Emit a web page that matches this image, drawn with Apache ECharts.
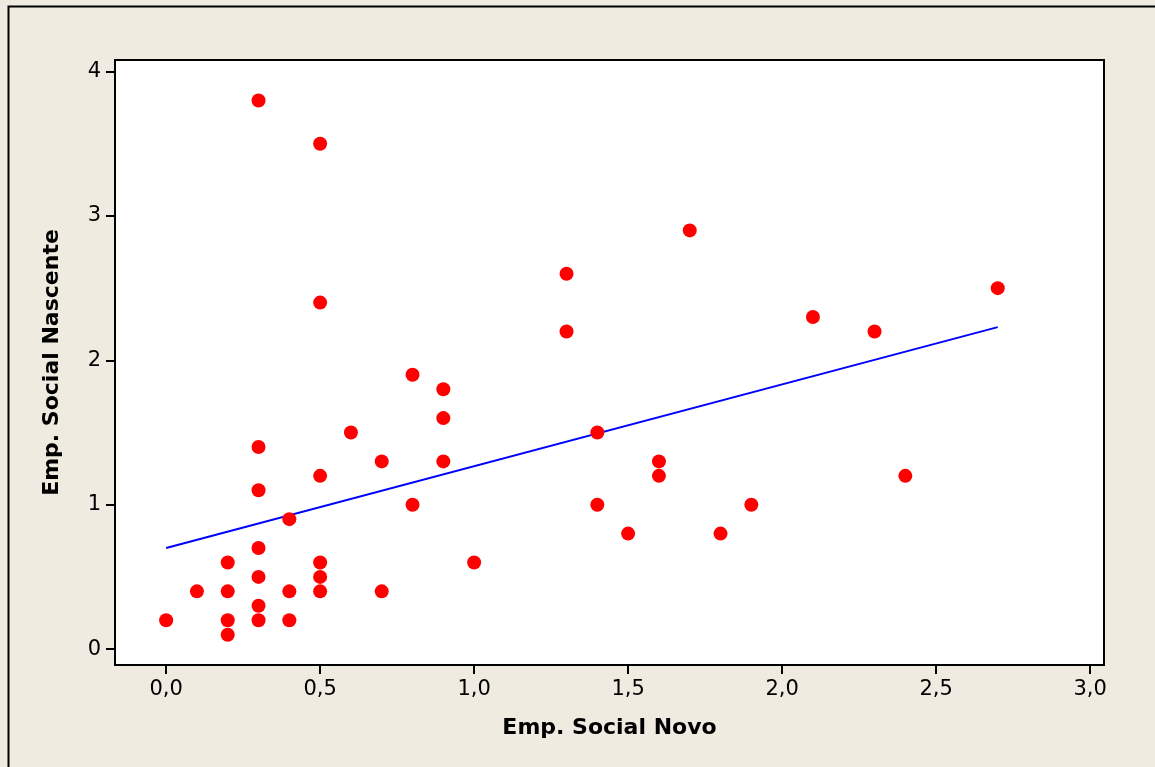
<!DOCTYPE html>
<html><head><meta charset="utf-8">
<script src="https://cdn.jsdelivr.net/npm/echarts@6/dist/echarts.min.js"></script>
<style>html,body{margin:0;padding:0;background:#EFEBE1;}#c{width:1155px;height:767px;}</style>
</head><body><div id="c"></div>
<script>
const xValues = [0.0, 0.1, 0.2, 0.2, 0.2, 0.2, 0.3, 0.3, 0.3, 0.3, 0.3, 0.3, 0.3, 0.4, 0.4, 0.4, 0.5, 0.5, 0.5, 0.5, 0.5, 0.5, 0.6, 0.7, 0.7, 0.8, 0.8, 0.9, 0.9, 0.9, 1.0, 1.3, 1.3, 1.4, 1.4, 1.5, 1.6, 1.6, 1.7, 1.8, 1.9, 2.1, 2.3, 2.4, 2.7];
const yValues = [0.2, 0.4, 0.6, 0.4, 0.2, 0.1, 3.8, 1.4, 1.1, 0.7, 0.5, 0.3, 0.2, 0.9, 0.4, 0.2, 3.5, 2.4, 1.2, 0.6, 0.5, 0.4, 1.5, 1.3, 0.4, 1.9, 1.0, 1.8, 1.6, 1.3, 0.6, 2.6, 2.2, 1.5, 1.0, 0.8, 1.3, 1.2, 2.9, 0.8, 1.0, 2.3, 2.2, 1.2, 2.5];
const fitX = [0.0, 2.7];
const fitY = [0.70, 2.23];
const xTicks = [0.0, 0.5, 1.0, 1.5, 2.0, 2.5, 3.0];
const yTicks = [0, 1, 2, 3, 4];
const xTitle = 'Emp. Social Novo';
const yTitle = 'Emp. Social Nascente';

const pts = xValues.map((x, i) => [x, yValues[i]]);
const fit = fitX.map((x, i) => [x, fitY[i]]);
const chart = echarts.init(document.getElementById('c'));
const font = 'DejaVu Sans';
chart.setOption({
  backgroundColor: '#EFEBE1',
  animation: false,
  graphic: [{type: 'rect', left: 6, top: 4, shape: {width: 1200, height: 800}, style: {fill: 'none', stroke: '#000', lineWidth: 2}, silent: true}],
  grid: {left: 115, top: 60, right: 51, bottom: 102, show: true, backgroundColor: '#fff', borderColor: '#000', borderWidth: 2},
  xAxis: {
    type: 'value', min: -0.166, max: 3.045,
    axisLine: {show: false, onZero: false},
    splitLine: {show: false},
    axisTick: {show: true, length: 9, lineStyle: {color: '#000', width: 2}, customValues: xTicks},
    axisLabel: {customValues: xTicks, color: '#000', fontFamily: font, fontSize: 21, margin: 14,
      formatter: v => v.toFixed(1).replace('.', ',')},
    name: xTitle, nameLocation: 'middle', nameGap: 52,
    nameTextStyle: {color: '#000', fontFamily: font, fontSize: 22, fontWeight: 'bold'}
  },
  yAxis: {
    type: 'value', min: -0.11, max: 4.08,
    axisLine: {show: false, onZero: false},
    splitLine: {show: false},
    axisTick: {show: true, length: 9, lineStyle: {color: '#000', width: 2}, customValues: yTicks},
    axisLabel: {customValues: yTicks, color: '#000', fontFamily: font, fontSize: 21, margin: 14,
      formatter: v => String(v)},
    name: yTitle, nameLocation: 'middle', nameGap: 52, nameRotate: 90,
    nameTextStyle: {color: '#000', fontFamily: font, fontSize: 22, fontWeight: 'bold'}
  },
  series: [
    {type: 'line', data: fit, symbol: 'none', lineStyle: {color: '#0000FF', width: 2}, z: 2, silent: true},
    {type: 'scatter', data: pts, symbol: 'circle', symbolSize: 14, itemStyle: {color: '#FF0000', opacity: 1}, z: 3}
  ]
});
</script></body></html>
